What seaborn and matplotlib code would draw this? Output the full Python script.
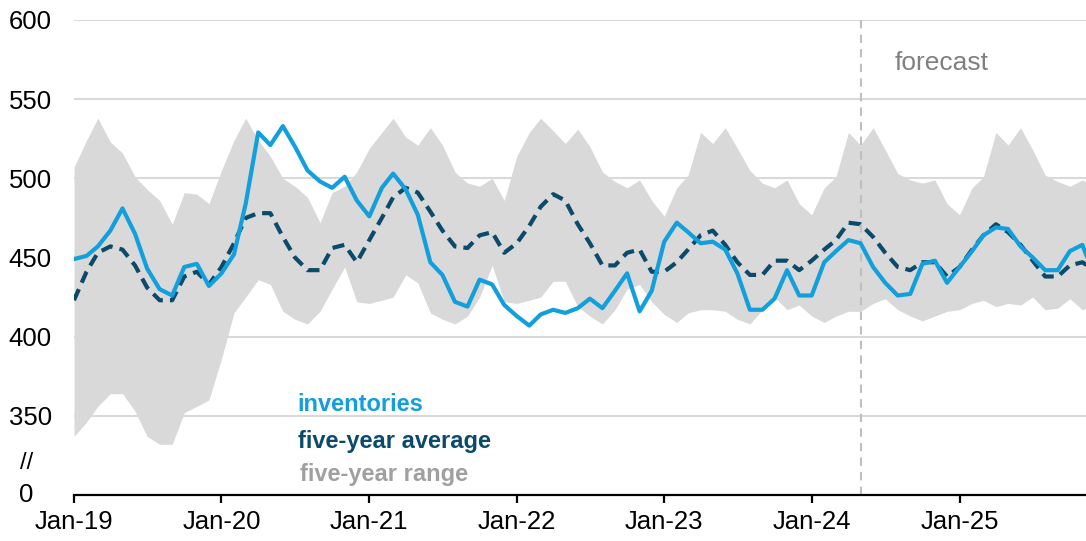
import pandas as pd
import matplotlib.pyplot as plt
import seaborn as sns

# Monthly values, Jan-2019 .. Dec-2025
start_month = "2019-01-01"
n_months = 84

inventories = [449, 451, 457, 467, 481, 465, 443, 430, 426, 444, 446, 432,
               440, 452, 484, 529, 521, 533, 520, 505, 498, 494, 501, 486,
               476, 494, 503, 493, 477, 447, 439, 422, 419, 436, 433, 420,
               413, 407, 414, 417, 415, 418, 424, 418, 429, 440, 416, 429,
               460, 472, 466, 459, 460, 455, 440, 417, 417, 424, 442, 426,
               426, 447, 454, 461, 459, 444, 434, 426, 427, 446, 448, 434,
               444, 454, 464, 469, 468, 457, 450, 442, 442, 454, 458, 438]

five_year_avg = [423, 441, 453, 457, 455, 445, 431, 423, 423, 438, 441, 433,
                 444, 459, 475, 478, 478, 463, 450, 442, 442, 456, 458, 447,
                 461, 475, 488, 494, 491, 479, 467, 457, 456, 464, 466, 453,
                 459, 470, 482, 490, 486, 471, 459, 445, 445, 453, 455, 441,
                 441, 447, 455, 464, 467, 458, 447, 439, 439, 448, 448, 442,
                 448, 455, 461, 472, 471, 463, 453, 444, 442, 447, 447, 438,
                 444, 455, 464, 471, 466, 458, 448, 438, 438, 445, 447, 442]

range_high = [507, 524, 538, 523, 516, 501, 493, 486, 471, 491, 490, 484,
              505, 524, 538, 524, 514, 500, 495, 488, 472, 491, 495, 504,
              519, 529, 538, 526, 521, 532, 521, 504, 497, 495, 500, 486,
              514, 529, 538, 530, 522, 531, 520, 504, 498, 494, 499, 486,
              476, 494, 502, 529, 522, 532, 519, 505, 497, 494, 499, 484,
              477, 494, 501, 529, 521, 532, 518, 503, 499, 497, 499, 484,
              477, 494, 501, 529, 521, 532, 518, 502, 498, 495, 499, 495]

range_low = [337, 346, 356, 364, 364, 353, 337, 332, 332, 352, 356, 360,
             386, 415, 425, 436, 433, 416, 411, 408, 416, 430, 444, 422,
             421, 423, 425, 439, 434, 415, 411, 408, 413, 425, 445, 422,
             421, 423, 425, 435, 435, 419, 413, 408, 417, 430, 433, 422,
             414, 409, 415, 417, 417, 416, 411, 408, 417, 425, 417, 420,
             413, 409, 413, 416, 416, 421, 424, 417, 413, 410, 413, 416,
             417, 421, 423, 419, 421, 420, 425, 417, 418, 424, 417, 420]

year_ticks = ["2019-01-01", "2020-01-01", "2021-01-01", "2022-01-01",
              "2023-01-01", "2024-01-01", "2025-01-01"]
year_labels = ["Jan-19", "Jan-20", "Jan-21", "Jan-22", "Jan-23", "Jan-24", "Jan-25"]
y_ticks = [350, 400, 450, 500, 550, 600]
forecast_start = "2024-05-01"

df = pd.DataFrame({
    "date": pd.date_range(start_month, periods=n_months, freq="MS"),
    "inventories": inventories,
    "avg": five_year_avg,
    "low": range_low,
    "high": range_high,
})

sns.set_style("white")
plt.rcParams["font.family"] = ["Liberation Sans", "DejaVu Sans"]

blue = "#129fdc"
dark = "#0b4a6a"
grey_fill = "#d9d9d9"

fig = plt.figure(figsize=(10.86, 5.41), dpi=100)
ax = fig.add_axes([74 / 1086, 46 / 541, 1 - 74 / 1086, 475 / 541])

# grid behind everything
for v in y_ticks:
    ax.axhline(v, color=grey_fill, lw=1.5, zorder=0)

ax.fill_between(df["date"], df["low"], df["high"], color=grey_fill, lw=0, zorder=1)
sns.lineplot(data=df, x="date", y="avg", ax=ax, color=dark, lw=3.0,
             linestyle=(0, (2.9, 1.7)), zorder=3)
sns.lineplot(data=df, x="date", y="inventories", ax=ax, color=blue, lw=3.0, zorder=4)

ax.axvline(pd.Timestamp(forecast_start), color="#bfbfbf", lw=1.5,
           linestyle=(0, (4, 3)), zorder=2)

ax.set_xlim(pd.Timestamp("2019-01-01"), pd.Timestamp("2025-11-10"))
ax.set_ylim(300, 600)
ax.set_yticks(y_ticks)
ax.set_yticklabels([str(v) for v in y_ticks])
ax.set_xticks(pd.to_datetime(year_ticks))
ax.set_xticklabels(year_labels)
ax.set_xlabel("")
ax.set_ylabel("")

for s in ["left", "right", "top"]:
    ax.spines[s].set_visible(False)
ax.spines["bottom"].set_color("black")
ax.spines["bottom"].set_linewidth(1.6)

ax.tick_params(axis="y", length=0, pad=16, labelsize=18.5, labelcolor="black")
ax.tick_params(axis="x", direction="out", length=6, width=1.6, color="black",
               pad=5, labelsize=18.5, labelcolor="black", bottom=True)

# broken axis marker and zero label
yt = ax.get_yaxis_transform()
ax.text(-0.047, 300, "0", transform=yt, ha="center", va="center",
        fontsize=18.5, color="black", clip_on=False)
ax.text(-0.047, 320, "//", transform=yt, ha="center", va="center",
        fontsize=17, color="black", clip_on=False)

# inline legend
ax.text(0.2204, 0.177, "inventories", transform=ax.transAxes, color=blue,
        fontsize=17, fontweight="bold", va="baseline")
ax.text(0.2215, 0.099, "five-year average", transform=ax.transAxes, color=dark,
        fontsize=17, fontweight="bold", va="baseline")
ax.text(0.2234, 0.029, "five-year range", transform=ax.transAxes, color="#a0a0a0",
        fontsize=17, fontweight="bold", va="baseline")

ax.text(0.811, 0.895, "forecast", transform=ax.transAxes, color="#808080",
        fontsize=19, va="baseline")

fig.savefig("out.png", dpi=100)
